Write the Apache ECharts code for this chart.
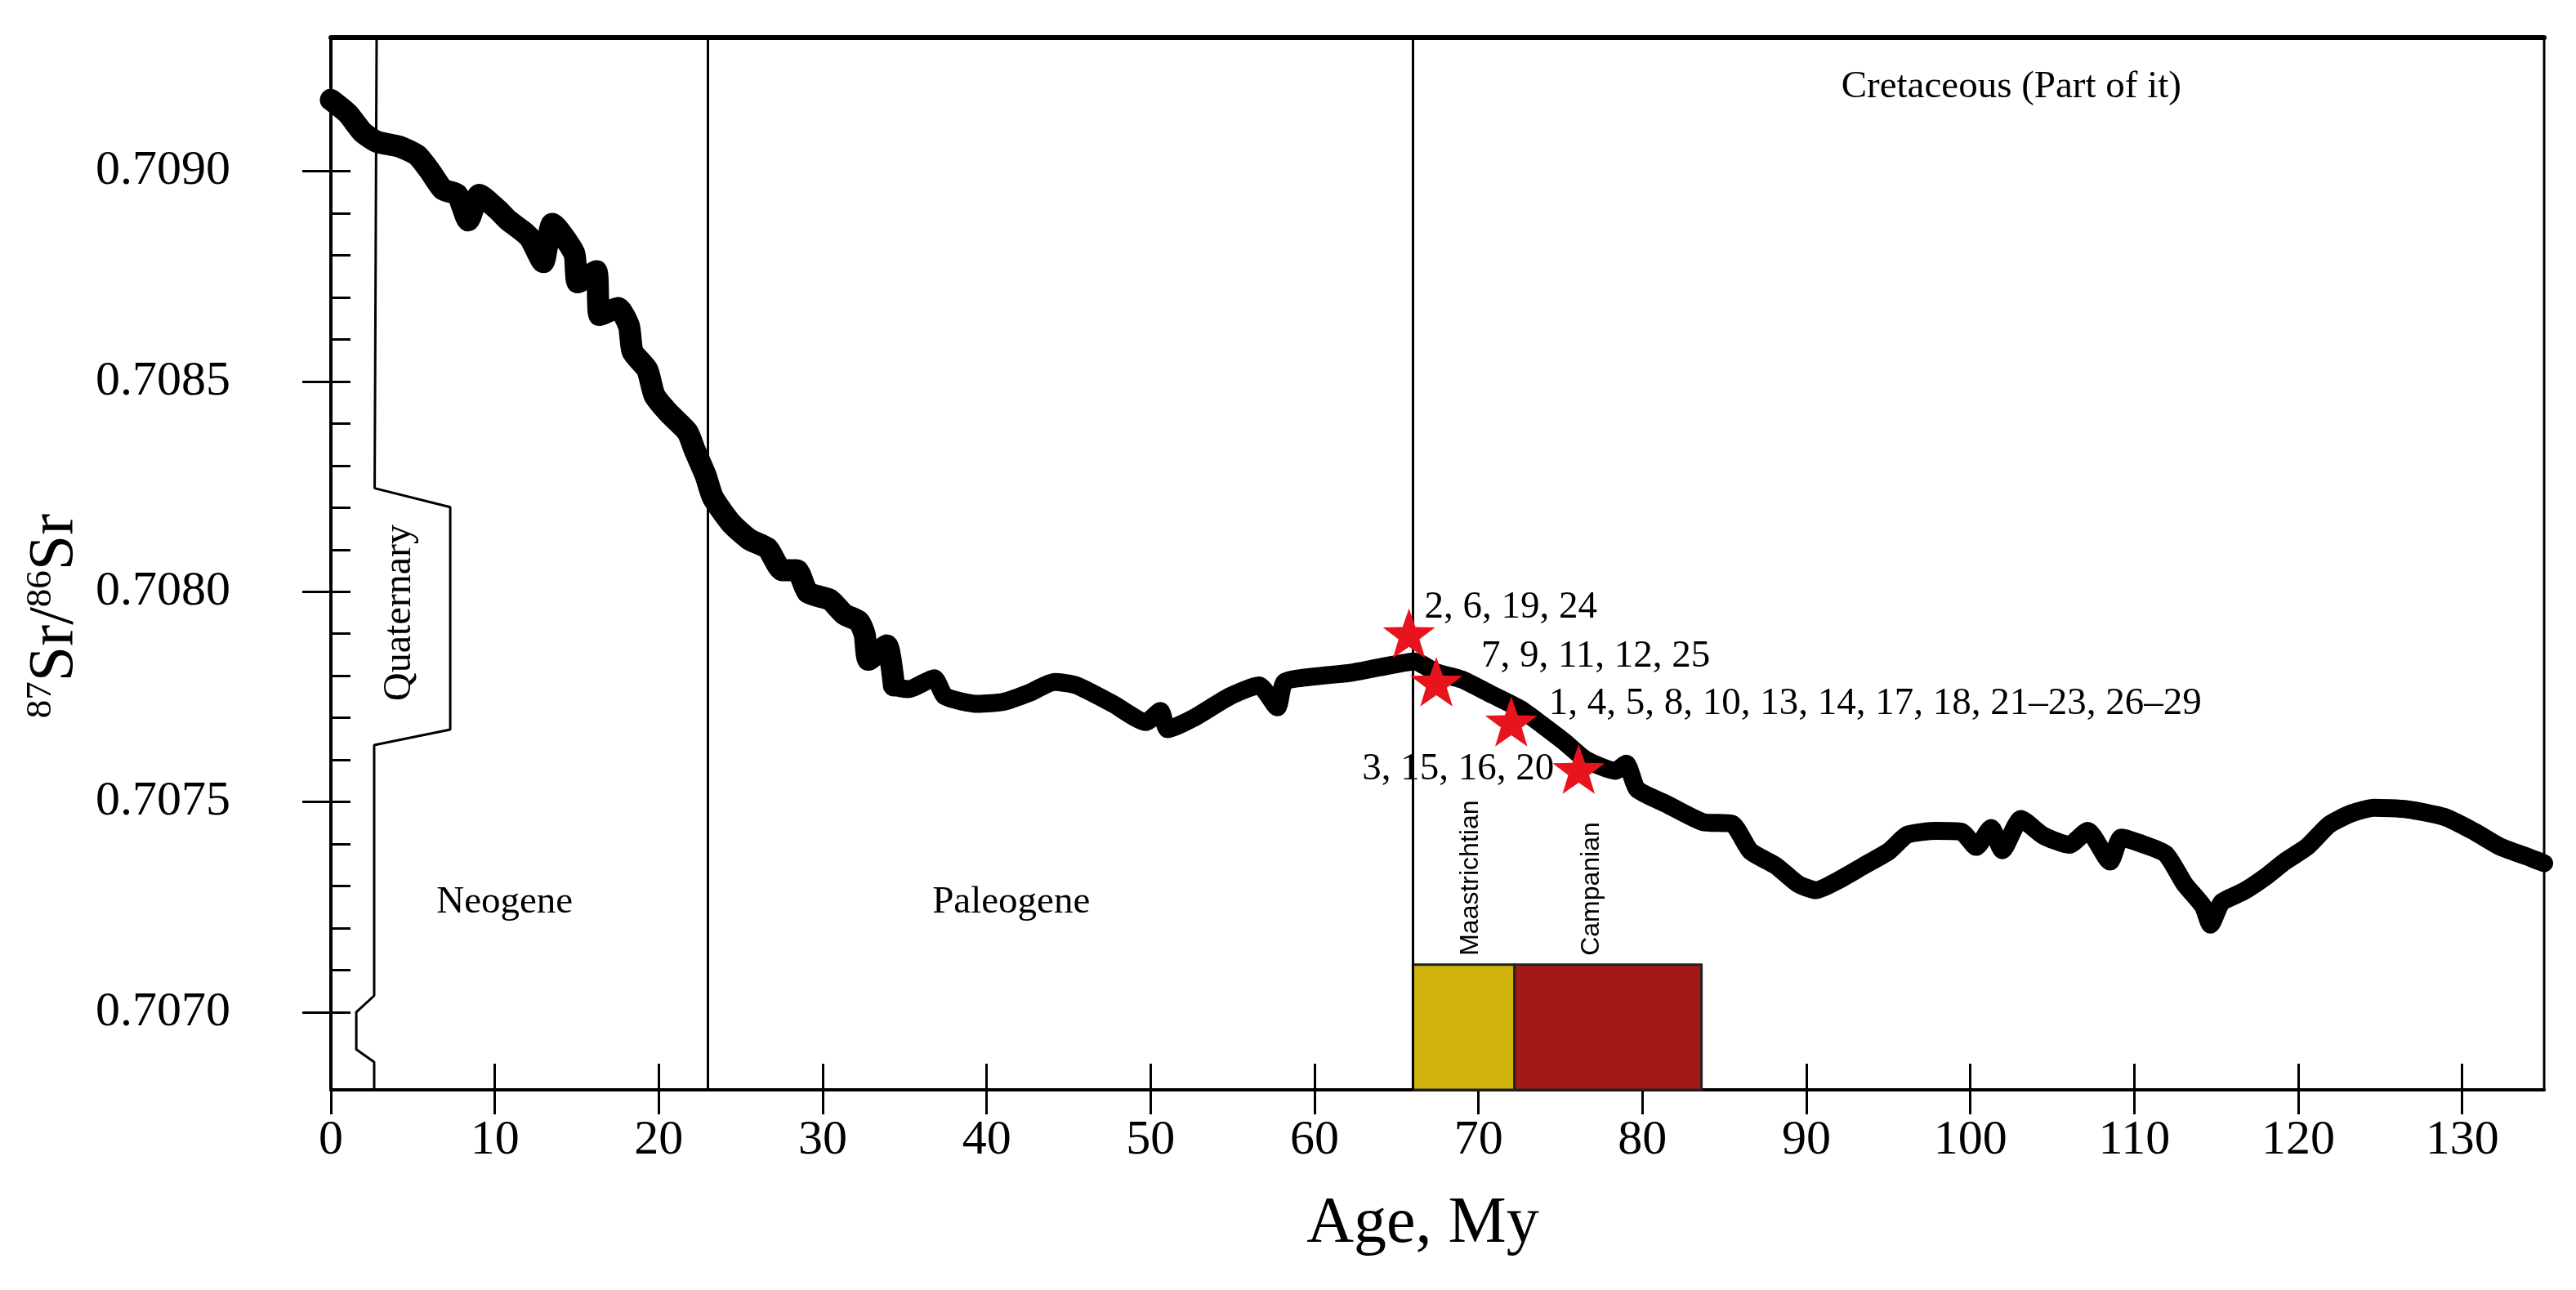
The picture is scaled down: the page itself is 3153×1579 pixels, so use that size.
<!DOCTYPE html>
<html>
<head>
<meta charset="utf-8">
<script src="https://cdn.jsdelivr.net/npm/echarts@6/dist/echarts.min.js"></script>
<style>
  html, body { margin: 0; padding: 0; background: #fff; }
  #main { width: 3153px; height: 1579px; }
</style>
</head>
<body>
<div id="main"></div>
<script>
// Sr isotope curve (age in My, 87Sr/86Sr)
const ageMy = [
  0.00, 1.04, 1.93, 2.82, 4.15, 5.27, 6.05, 6.83, 7.72, 8.38,
  9.05, 10.16, 10.83, 11.72, 12.17, 12.95, 13.51, 14.84, 15.06, 16.18,
  16.40, 17.51, 18.18, 18.40, 19.30, 19.74, 20.63, 21.75, 22.19, 22.86,
  23.30, 24.41, 25.53, 26.64, 27.53, 28.42, 29.09, 30.43, 31.32, 32.21,
  32.56, 32.79, 33.90, 34.34, 35.24, 36.80, 37.46, 39.47, 41.03, 42.58,
  44.14, 45.48, 47.71, 49.71, 50.60, 51.04, 52.60, 54.83, 56.61, 57.73,
  58.17, 59.95, 62.18, 63.96, 66.10, 67.43, 68.99, 70.77, 72.55, 73.89,
  75.23, 76.56, 78.35, 79.01, 79.68, 81.46, 83.69, 85.46, 86.58, 88.14,
  89.48, 90.59, 91.93, 93.49, 95.05, 96.16, 97.94, 99.45, 100.36, 101.27,
  101.95, 103.08, 104.44, 106.03, 107.16, 108.52, 109.20, 110.33, 111.92, 113.06,
  114.19, 114.65, 115.33, 116.67, 118.05, 119.18, 120.54, 121.90, 123.26, 124.62,
  126.66, 128.93, 130.75, 132.34, 134.15, 135.00
];
const srRatio = [
  0.709170, 0.709137, 0.709093, 0.709070, 0.709059, 0.709038, 0.709000, 0.708957, 0.708944, 0.708883,
  0.708944, 0.708909, 0.708883, 0.708857, 0.708840, 0.708784, 0.708875, 0.708805, 0.708736, 0.708762,
  0.708658, 0.708675, 0.708632, 0.708571, 0.708528, 0.708467, 0.708424, 0.708380, 0.708337, 0.708276,
  0.708224, 0.708163, 0.708124, 0.708103, 0.708051, 0.708051, 0.707998, 0.707981, 0.707946, 0.707929,
  0.707898, 0.707838, 0.707872, 0.707777, 0.707768, 0.707794, 0.707751, 0.707733, 0.707738, 0.707759,
  0.707785, 0.707777, 0.707733, 0.707690, 0.707716, 0.707673, 0.707699, 0.707751, 0.707777, 0.707725,
  0.707785, 0.707798, 0.707807, 0.707820, 0.707834, 0.707808, 0.707791, 0.707756, 0.707721, 0.707683,
  0.707643, 0.707600, 0.707574, 0.707591, 0.707530, 0.707495, 0.707452, 0.707448, 0.707383, 0.707348,
  0.707305, 0.707290, 0.707313, 0.707348, 0.707383, 0.707422, 0.707431, 0.707429, 0.707393, 0.707438,
  0.707385, 0.707459, 0.707420, 0.707398, 0.707431, 0.707358, 0.707415, 0.707402, 0.707376, 0.707305,
  0.707252, 0.707208, 0.707261, 0.707287, 0.707323, 0.707358, 0.707393, 0.707446, 0.707473, 0.707486,
  0.707482, 0.707464, 0.707429, 0.707393, 0.707367, 0.707354
];
// the band is drawn wider over the Neogene / early Paleogene part
const wideBandEndAge = 35;

// samples (red stars)
const starAge = [65.76, 67.43, 72.0, 76.11];
const starSr = [0.707901, 0.707786, 0.707691, 0.707578];
const starLabels = ['2, 6, 19, 24', '7, 9, 11, 12, 25',
  '1, 4, 5, 8, 10, 13, 14, 17, 18, 21\u201323, 26\u201329', '3, 15, 16, 20'];

// stages
const stageNames = ['Maastrichtian', 'Campanian'];
const stageStart = [66.0, 72.2];
const stageEnd = [72.2, 83.6];
const stageTopSr = 0.707113;
const stageLabelAge = [69.55, 76.9];
const stageLabelSr = [0.707319, 0.707293];
const stageColors = ['#cfb20b', '#a11a18'];

// periods
const periodNames = ['Quaternary', 'Neogene', 'Paleogene', 'Cretaceous (Part of it)'];
const periodLabelAge = [4.2, 10.6, 41.5, 102.5];
const periodLabelSr = [0.70795, 0.70726, 0.70726, 0.70920];
const boundaryAge = [23.0, 66.0];

// axis ranges and ticks
const xMin = 0, xMax = 135;
const yMin = 0.706815, yMax = 0.709318;
const xTicks = [0, 10, 20, 30, 40, 50, 60, 70, 80, 90, 100, 110, 120, 130];
const yMajorTicks = [0.7070, 0.7075, 0.7080, 0.7085, 0.7090];
const yMinorTicks = [0.7070, 0.7071, 0.7072, 0.7073, 0.7074, 0.7075, 0.7076, 0.7077, 0.7078, 0.7079,
  0.7080, 0.7081, 0.7082, 0.7083, 0.7084, 0.7085, 0.7086, 0.7087, 0.7088, 0.7089, 0.7090];

// Quaternary / Neogene boundary outline
const quatAge = [2.79, 2.67, 7.28, 7.28, 2.64, 2.64, 1.55, 1.55, 2.64, 2.64];
const quatSr = [yMax, 0.708246, 0.708201, 0.707672, 0.707635, 0.707039, 0.707000, 0.706911, 0.706881, yMin];

const serif = 'Liberation Serif';
const sans = 'Liberation Sans';

const starPath = 'path://M0,-50 L11.76,-16.18 L47.55,-15.45 L19.02,6.18 L29.39,40.45 L0,20 L-29.39,40.45 L-19.02,6.18 L-47.55,-15.45 L-11.76,-16.18 Z';
// where each star label sits relative to its star
const starLabelPlace = [
  { position: 'right', offset: [-13, -32] },
  { position: 'right', offset: [23, -31] },
  { position: 'right', offset: [14, -22] },
  { position: 'left', offset: [2, 0] }
];

const curveData = ageMy.map((a, i) => [a, srRatio[i]]);
const wideData = curveData.filter(d => d[0] <= wideBandEndAge);

const chart = echarts.init(document.getElementById('main'));

const options = {
  animation: false,
  backgroundColor: '#fff',
  grid: {
    left: 405, right: 39, top: 46, bottom: 245,
    show: true, borderColor: '#000', borderWidth: 3,
    outerBoundsMode: 'none'
  },
  xAxis: [
    {
      type: 'value', min: xMin, max: xMax, position: 'bottom',
      axisLine: { onZero: false, lineStyle: { color: '#000', width: 4 } },
      axisTick: { customValues: xTicks, inside: false, length: 30, lineStyle: { color: '#000', width: 3 } },
      axisLabel: { customValues: xTicks, margin: 32, color: '#000', fontFamily: serif, fontSize: 60 },
      splitLine: { show: false },
      name: 'Age, My', nameLocation: 'middle', nameGap: 125,
      nameTextStyle: { color: '#000', fontFamily: serif, fontSize: 80, padding: [0, 36, 0, 0] }
    },
    {
      type: 'value', min: xMin, max: xMax, position: 'bottom',
      axisLine: { show: false },
      axisTick: { customValues: xTicks.slice(1), inside: true, length: 32, lineStyle: { color: '#000', width: 3 } },
      axisLabel: { show: false },
      splitLine: { show: false }
    },
    {
      type: 'value', min: xMin, max: xMax, position: 'top',
      axisLine: { lineStyle: { color: '#000', width: 6 } },
      axisTick: { show: false }, axisLabel: { show: false }, splitLine: { show: false }
    }
  ],
  yAxis: [
    {
      type: 'value', min: yMin, max: yMax, position: 'left',
      axisLine: { onZero: false, lineStyle: { color: '#000', width: 4 } },
      axisTick: { customValues: yMajorTicks, inside: false, length: 35, lineStyle: { color: '#000', width: 3 } },
      axisLabel: {
        customValues: yMajorTicks, margin: 123, color: '#000', fontFamily: serif, fontSize: 60,
        formatter: v => v.toFixed(4)
      },
      splitLine: { show: false },
      name: '{sup|87}{big|Sr/}{sup|86}{big|Sr}',
      nameLocation: 'middle', nameRotate: 90, nameGap: 298,
      nameTextStyle: {
        color: '#000',
        padding: [0, 128, 0, 0],
        rich: {
          sup: { fontFamily: serif, fontSize: 45, lineHeight: 45, verticalAlign: 'top', color: '#000' },
          big: { fontFamily: serif, fontSize: 78, lineHeight: 78, verticalAlign: 'bottom', color: '#000' }
        }
      }
    },
    {
      type: 'value', min: yMin, max: yMax, position: 'left',
      axisLine: { show: false },
      axisTick: { customValues: yMinorTicks, inside: true, length: 24, lineStyle: { color: '#000', width: 3 } },
      axisLabel: { show: false },
      splitLine: { show: false }
    }
  ],
  series: [
    {
      // stage boxes with their names
      type: 'custom',
      z: 2,
      data: stageStart.map((s, i) => [s, stageEnd[i]]),
      renderItem: (params, api) => {
        const i = params.dataIndex;
        const tl = api.coord([stageStart[i], stageTopSr]);
        const br = api.coord([stageEnd[i], yMin]);
        const lp = api.coord([stageLabelAge[i], stageLabelSr[i]]);
        return {
          type: 'group',
          children: [
            {
              type: 'rect',
              shape: { x: tl[0], y: tl[1], width: br[0] - tl[0], height: br[1] - tl[1] },
              style: { fill: stageColors[i], stroke: '#222', lineWidth: 3 }
            },
            {
              type: 'text', x: lp[0], y: lp[1], rotation: Math.PI / 2,
              style: {
                text: stageNames[i], fontFamily: sans, fontSize: 32, fill: '#000',
                align: 'center', verticalAlign: 'middle'
              }
            }
          ]
        };
      }
    },
    {
      // Quaternary outline + period boundaries
      type: 'line',
      z: 3,
      data: quatAge.map((a, i) => [a, quatSr[i]]),
      showSymbol: false,
      symbol: 'none',
      lineStyle: { color: '#000', width: 3 },
      silent: true,
      markLine: {
        silent: true,
        symbol: 'none',
        label: { show: false },
        lineStyle: { color: '#000', width: 3, type: 'solid' },
        data: boundaryAge.map(a => ({ xAxis: a }))
      }
    },
    {
      // period names
      type: 'custom',
      z: 4,
      data: periodLabelAge.map((a, i) => [a, periodLabelSr[i]]),
      renderItem: (params, api) => {
        const i = params.dataIndex;
        const p = api.coord([periodLabelAge[i], periodLabelSr[i]]);
        return {
          type: 'text', x: p[0], y: p[1],
          rotation: i === 0 ? Math.PI / 2 : 0,
          style: {
            text: periodNames[i], fontFamily: serif, fontSize: i === 0 ? 48 : 47, fill: '#000',
            align: 'center', verticalAlign: 'middle'
          }
        };
      }
    },
    {
      name: 'Sr curve',
      type: 'line',
      z: 5,
      data: curveData,
      showSymbol: false,
      symbol: 'none',
      smooth: 0.2,
      lineStyle: { color: '#000', width: 22, cap: 'round', join: 'round' }
    },
    {
      name: 'Sr curve (wide part)',
      type: 'line',
      z: 5,
      data: wideData,
      showSymbol: false,
      symbol: 'none',
      smooth: 0.2,
      lineStyle: { color: '#000', width: 27, cap: 'round', join: 'round' }
    },
    {
      name: 'Samples',
      type: 'scatter',
      z: 6,
      symbol: starPath,
      symbolSize: 64,
      symbolKeepAspect: true,
      itemStyle: { color: '#e8141d', opacity: 1 },
      data: starAge.map((a, i) => ({
        value: [a, starSr[i]],
        label: {
          show: true,
          position: starLabelPlace[i].position,
          distance: 0,
          offset: starLabelPlace[i].offset,
          formatter: starLabels[i],
          fontFamily: serif, fontSize: 47, color: '#000'
        }
      }))
    }
  ]
};

chart.setOption(options);
</script>
</body>
</html>
